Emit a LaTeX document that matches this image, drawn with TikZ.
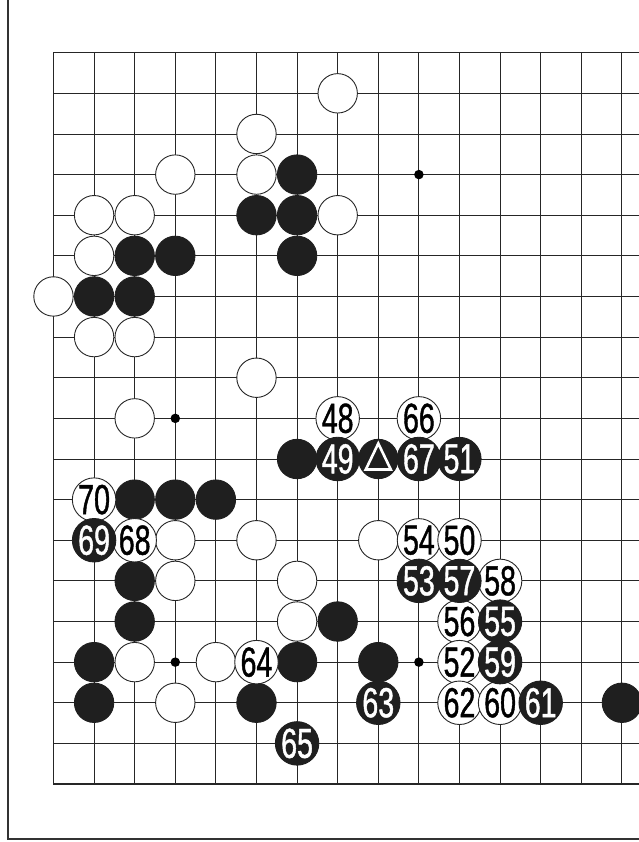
\documentclass[tikz,border=0pt]{standalone}
\usepackage{fontspec}
\newfontfamily\numfont[FakeStretch=0.68,FakeBold=1.0]{Liberation Sans}
\newcommand\numstyle{\numfont\fontsize{42}{42}\selectfont}
\tikzset{
  gridline/.style={line width=0.9pt, black!85},
  edgeline/.style={line width=1.3pt, black!85},
  framebox/.style={line width=1.3pt, black!80},
  wstone/.style={circle, draw=black!85, line width=0.9pt, fill=white, minimum size=39.4pt, inner sep=0pt, font=\numstyle, text=black},
  bstone/.style={circle, draw=black!88, line width=0.9pt, fill=black!88, minimum size=39.4pt, inner sep=0pt, font=\numstyle, text=white},
  hoshi/.style={circle, fill=black, minimum size=9.5pt, inner sep=0pt},
  trimark/.style={white, line width=2.6pt, line join=miter}
}
\begin{document}
\begin{tikzpicture}[x=40.6pt, y=-40.63pt]
\useasboundingbox (-1.3177,-1.2971) rectangle (14.421,19.427);
\clip (-1.3177,-1.2971) rectangle (14.421,19.427);
% outer frame
\draw[framebox] (-1.1207,-2) -- (-1.1207,19.355) -- (16,19.355);
% grid
\foreach \c in {1,...,14} \draw[gridline] (\c,0) -- (\c,18);
\foreach \r in {1,...,17} \draw[gridline] (0,\r) -- (15,\r);
\draw[edgeline] (15,0) -- (0,0) -- (0,18) -- (15,18);
% star points
\node[hoshi] (h1) at (3,9) {};
\node[hoshi] (h2) at (9,3) {};
\node[hoshi] (h3) at (3,15) {};
\node[hoshi] (h4) at (9,15) {};
% white stones
\foreach \c/\r in {7/1, 5/2, 3/3, 5/3, 1/4, 2/4, 7/4, 1/5, 0/6, 1/7, 2/7, 5/8, 2/9,
  3/12, 5/12, 8/12, 3/13, 6/13, 6/14, 2/15, 4/15, 3/16}
  \node[wstone] (w-\c-\r) at (\c,\r) {};
% black stones
\foreach \c/\r in {6/3, 5/4, 6/4, 2/5, 3/5, 6/5, 1/6, 2/6, 6/10, 2/11, 3/11, 4/11,
  2/13, 2/14, 7/14, 1/15, 6/15, 8/15, 1/16, 5/16, 14/16}
  \node[bstone] (b-\c-\r) at (\c,\r) {};
% numbered white stones
\node[wstone] (m48) at (7,9) {48};
\node[wstone] (m66) at (9,9) {66};
\node[wstone] (m70) at (1,11) {70};
\node[wstone] (m68) at (2,12) {68};
\node[wstone] (m54) at (9,12) {54};
\node[wstone] (m50) at (10,12) {50};
\node[wstone] (m58) at (11,13) {58};
\node[wstone] (m56) at (10,14) {56};
\node[wstone] (m64) at (5,15) {64};
\node[wstone] (m52) at (10,15) {52};
\node[wstone] (m62) at (10,16) {62};
\node[wstone] (m60) at (11,16) {60};
% numbered black stones
\node[bstone] (m49) at (7,10) {49};
\node[bstone] (tri) at (8,10) {};
\node[bstone] (m67) at (9,10) {67};
\node[bstone] (m51) at (10,10) {51};
\node[bstone] (m69) at (1,12) {69};
\node[bstone] (m53) at (9,13) {53};
\node[bstone] (m57) at (10,13) {57};
\node[bstone] (m55) at (11,14) {55};
\node[bstone] (m59) at (11,15) {59};
\node[bstone] (m63) at (8,16) {63};
\node[bstone] (m61) at (12,16) {61};
\node[bstone] (m65) at (6,17) {65};
% triangle mark
\draw[trimark] ([yshift=15.5pt]tri.center) -- ([xshift=12.5pt,yshift=-10.5pt]tri.center) -- ([xshift=-12.5pt,yshift=-10.5pt]tri.center) -- cycle;
\end{tikzpicture}
\end{document}
